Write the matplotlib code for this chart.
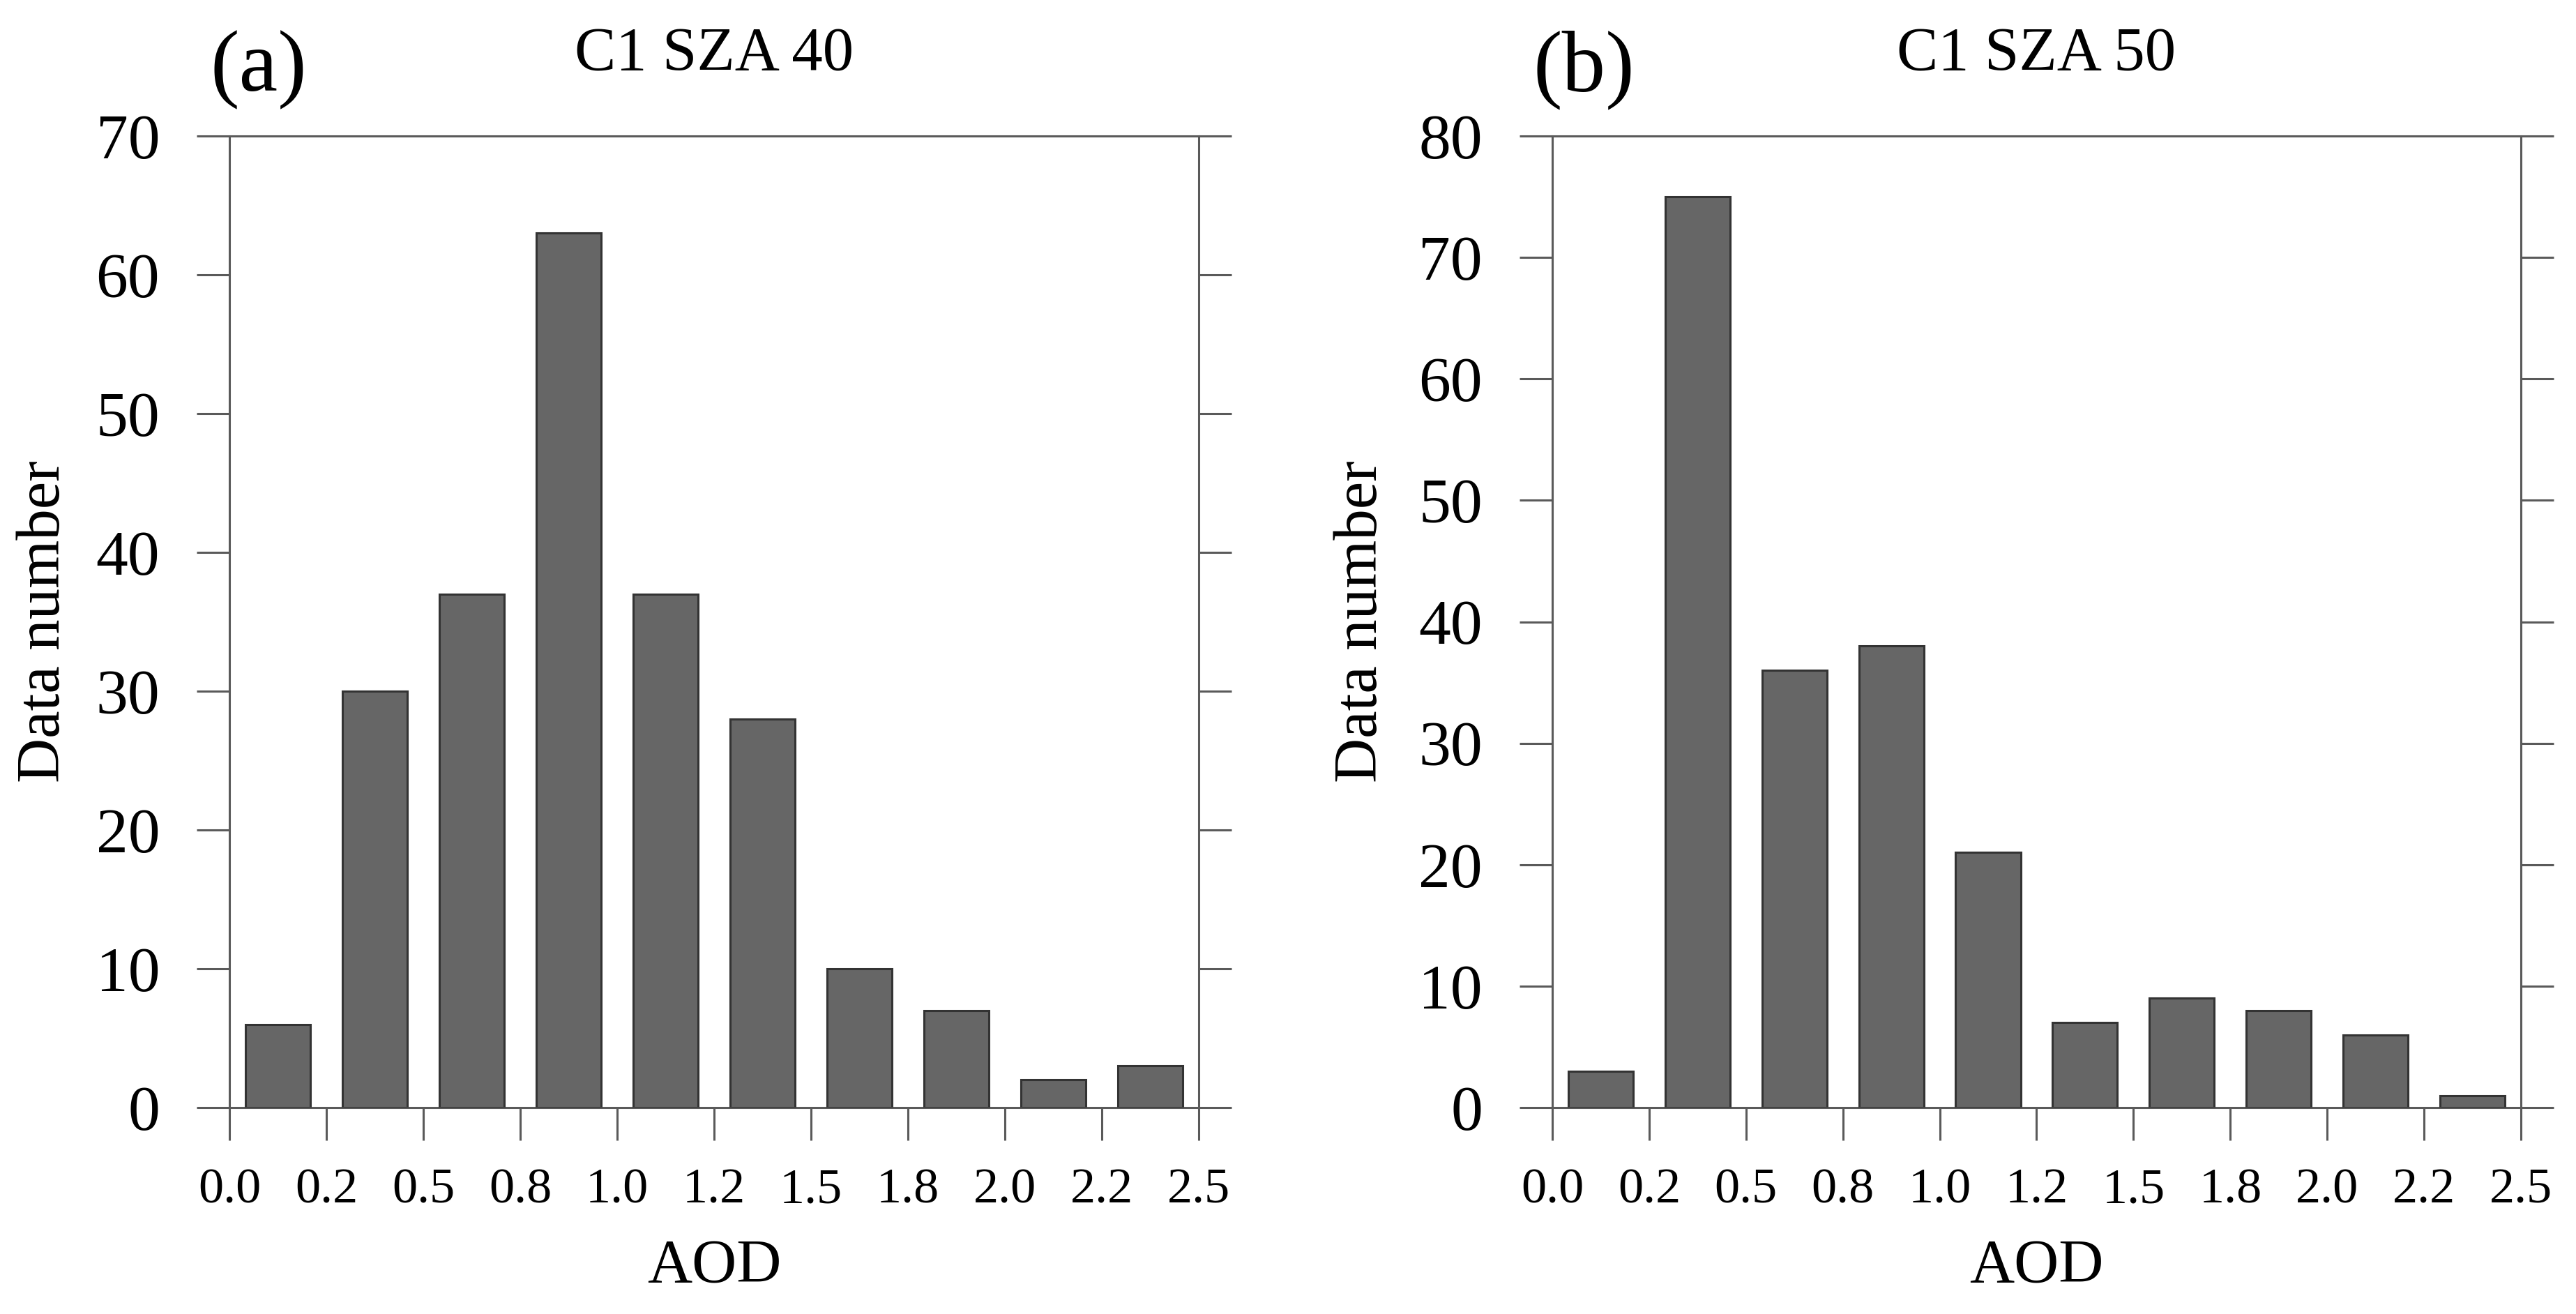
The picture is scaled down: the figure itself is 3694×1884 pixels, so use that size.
import matplotlib.pyplot as plt
import numpy as np

# Data
bin_edges = [0.0, 0.25, 0.5, 0.75, 1.0, 1.25, 1.5, 1.75, 2.0, 2.25, 2.5]
tick_labels = ['0.0', '0.2', '0.5', '0.8', '1.0', '1.2', '1.5', '1.8', '2.0', '2.2', '2.5']
counts_a = [6, 30, 37, 63, 37, 28, 10, 7, 2, 3]
counts_b = [3, 75, 36, 38, 21, 7, 9, 8, 6, 1]
titles = ['C1 SZA 40', 'C1 SZA 50']
panel_tags = ['(a)', '(b)']
ymax = [70, 80]
ylabel_x = [-0.191, -0.197]

plt.rcParams['font.family'] = ['Liberation Serif', 'DejaVu Serif']

fig = plt.figure(figsize=(18.47, 9.42), dpi=200)
ax_a = fig.add_axes([0.0891, 0.1571, 0.3763, 0.7394])
ax_b = fig.add_axes([0.6026, 0.1571, 0.3760, 0.7394])

edges = np.array(bin_edges)
centers = (edges[:-1] + edges[1:]) / 2
bw = (edges[1] - edges[0]) * 0.67

axis_col = '#5a5a5a'
for ax, counts, title, tag, top, lx in zip([ax_a, ax_b], [counts_a, counts_b], titles,
                                           panel_tags, ymax, ylabel_x):
    ax.bar(centers, counts, width=bw, color='#666666', edgecolor='#333333', linewidth=1.1, zorder=3)
    ax.set_xlim(edges[0], edges[-1])
    ax.set_ylim(0, top)
    ax.set_xticks(edges)
    ax.set_xticklabels(tick_labels)
    ax.set_yticks(np.arange(0, top + 1, 10))
    for s in ax.spines.values():
        s.set_color(axis_col)
        s.set_linewidth(1.1)
    ax.tick_params(axis='y', which='both', direction='out', length=17, width=1.1, color=axis_col,
                   right=True, labelright=False, labelsize=33, pad=19)
    ax.tick_params(axis='x', direction='out', length=17, width=1.1, color=axis_col,
                   labelsize=26, pad=14)
    ax.set_ylabel('Data number', fontsize=32)
    ax.set_xlabel('AOD', fontsize=32)
    ax.yaxis.set_label_coords(lx, 0.5)
    ax.xaxis.set_label_coords(0.5, -0.164)
    ax.xaxis.label.set_va('center')
    ax.yaxis.label.set_va('center')
    ax.text(0.5, 1.084, title, transform=ax.transAxes, ha='center', va='center', fontsize=32)
    ax.text(-0.02, 1.068, tag, transform=ax.transAxes, ha='left', va='center', fontsize=45)

plt.savefig('out.png', dpi=200)
